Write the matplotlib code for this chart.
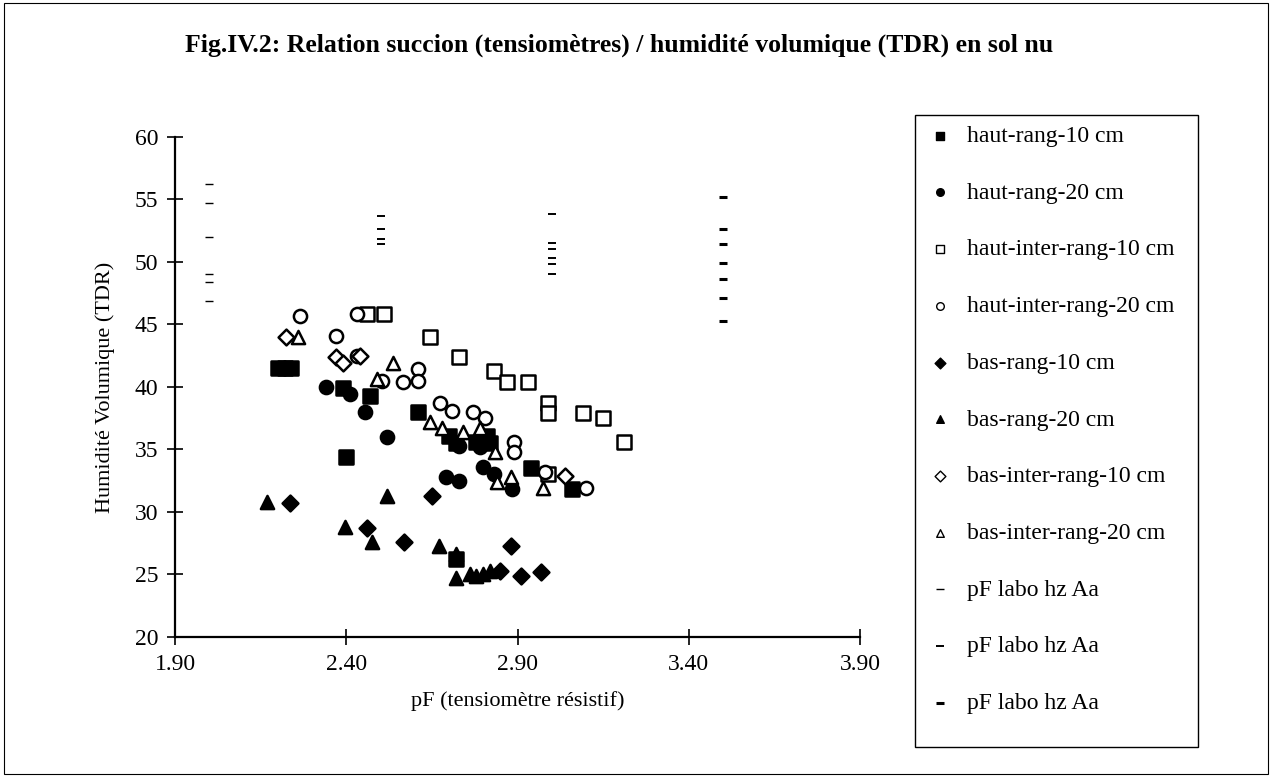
import matplotlib

matplotlib.use('Agg')
import matplotlib.pyplot as plt
from matplotlib.patches import Rectangle

plt.rcParams['font.family'] = ['Liberation Serif', 'DejaVu Serif']

TITLE = "Fig.IV.2: Relation succion (tensiomètres) / humidité volumique (TDR) en sol nu"

# pF (x) / humidité volumique (y) for each probe position
haut_rang_10_x = [2.20, 2.22, 2.24, 2.39, 2.40, 2.47, 2.61, 2.70, 2.72, 2.72, 2.78, 2.81, 2.82, 2.94, 3.06]
haut_rang_10_y = [41.5, 41.5, 41.5, 39.9, 34.4, 39.3, 38.0, 36.1, 35.5, 26.2, 35.6, 36.1, 35.5, 33.5, 31.8]

haut_rang_20_x = [2.34, 2.41, 2.455, 2.52, 2.69, 2.73, 2.73, 2.79, 2.80, 2.83, 2.885]
haut_rang_20_y = [40.0, 39.4, 38.0, 36.0, 32.8, 32.5, 35.3, 35.2, 33.6, 33.0, 31.8]

haut_inter_rang_10_x = [2.46, 2.51, 2.645, 2.73, 2.83, 2.87, 2.93, 2.99, 2.99, 3.09, 3.15, 3.21, 2.99]
haut_inter_rang_10_y = [45.8, 45.8, 44.0, 42.4, 41.3, 40.4, 40.4, 38.7, 37.9, 37.9, 37.5, 35.6, 33.0]

haut_inter_rang_20_x = [2.265, 2.37, 2.43, 2.43, 2.505, 2.565, 2.61, 2.61, 2.675, 2.71, 2.77, 2.805,
                        2.89, 2.89, 2.98, 3.10]
haut_inter_rang_20_y = [45.7, 44.1, 45.8, 42.5, 40.5, 40.4, 41.4, 40.5, 38.7, 38.1, 38.0, 37.5,
                        35.6, 34.8, 33.2, 31.9]

bas_rang_10_x = [2.235, 2.46, 2.57, 2.65, 2.88, 2.85, 2.91, 2.97]
bas_rang_10_y = [30.7, 28.7, 27.6, 31.3, 27.3, 25.3, 24.9, 25.2]

bas_rang_20_x = [2.17, 2.395, 2.475, 2.52, 2.67, 2.72, 2.72, 2.76, 2.78, 2.80, 2.82]
bas_rang_20_y = [30.8, 28.8, 27.6, 31.3, 27.3, 26.6, 24.7, 25.0, 24.9, 25.0, 25.3]

bas_inter_rang_10_x = [2.225, 2.37, 2.39, 2.44, 3.04]
bas_inter_rang_10_y = [44.0, 42.4, 41.9, 42.5, 32.9]

bas_inter_rang_20_x = [2.26, 2.535, 2.49, 2.645, 2.68, 2.74, 2.79, 2.835, 2.84, 2.88, 2.975]
bas_inter_rang_20_y = [44.0, 41.9, 40.6, 37.2, 36.7, 36.4, 36.7, 34.8, 32.4, 32.8, 31.9]

# laboratory pF curve points (horizon Aa)
pf_labo_a_x = [2.00, 2.00, 2.00, 2.00, 2.00, 2.00]
pf_labo_a_y = [56.2, 54.7, 52.0, 49.0, 48.4, 46.9]
pf_labo_b_x = [2.50, 2.50, 2.50, 2.50, 3.00, 3.00, 3.00, 3.00, 3.00, 3.00]
pf_labo_b_y = [53.7, 52.6, 51.8, 51.4, 53.8, 51.5, 51.0, 50.3, 49.8, 49.0]
pf_labo_c_x = [3.50, 3.50, 3.50, 3.50, 3.50, 3.50, 3.50]
pf_labo_c_y = [55.2, 52.6, 51.4, 49.9, 48.6, 47.1, 45.3]

x_ticks = [1.90, 2.40, 2.90, 3.40, 3.90]
y_ticks = [20, 25, 30, 35, 40, 45, 50, 55, 60]

series = [
    (haut_rang_10_x, haut_rang_10_y, 's', 'black', 'haut-rang-10 cm'),
    (haut_rang_20_x, haut_rang_20_y, 'o', 'black', 'haut-rang-20 cm'),
    (haut_inter_rang_10_x, haut_inter_rang_10_y, 's', 'white', 'haut-inter-rang-10 cm'),
    (haut_inter_rang_20_x, haut_inter_rang_20_y, 'o', 'white', 'haut-inter-rang-20 cm'),
    (bas_rang_10_x, bas_rang_10_y, 'D', 'black', 'bas-rang-10 cm'),
    (bas_rang_20_x, bas_rang_20_y, '^', 'black', 'bas-rang-20 cm'),
    (bas_inter_rang_10_x, bas_inter_rang_10_y, 'D', 'white', 'bas-inter-rang-10 cm'),
    (bas_inter_rang_20_x, bas_inter_rang_20_y, '^', 'white', 'bas-inter-rang-20 cm'),
]

fig = plt.figure(figsize=(12.72, 7.77), dpi=100)
fig.patches.append(Rectangle((0.003, 0.004), 0.994, 0.992, transform=fig.transFigure,
                             fill=False, edgecolor='black', linewidth=0.8))
ax = fig.add_axes([0.1376, 0.1802, 0.5385, 0.6435])

handles = []
for xs, ys, marker, face, label in series:
    size = 65 if marker == 'D' else 90
    ax.scatter(xs, ys, marker=marker, s=size, facecolors=face, edgecolors='black',
               linewidths=1.8, zorder=3)
    handles.append(ax.scatter([], [], marker=marker, s=30, facecolors=face,
                              edgecolors='black', linewidths=1.0, label=label))

for xs, ys, lw in [(pf_labo_a_x, pf_labo_a_y, 1.0), (pf_labo_b_x, pf_labo_b_y, 1.4),
                   (pf_labo_c_x, pf_labo_c_y, 2.2)]:
    ax.scatter(xs, ys, marker='_', s=30, color='black', linewidths=lw, zorder=3)
    handles.append(ax.scatter([], [], marker='_', s=30, color='black', linewidths=lw,
                              label='pF labo hz Aa'))

ax.set_xlim(1.90, 3.90)
ax.set_ylim(20, 60)
ax.set_xticks(x_ticks)
ax.set_xticklabels([f"{t:.2f}" for t in x_ticks])
ax.set_yticks(y_ticks)
ax.tick_params(direction='inout', length=12, width=1.2, labelsize=17, pad=6)
for side in ('top', 'right'):
    ax.spines[side].set_visible(False)
for side in ('left', 'bottom'):
    ax.spines[side].set_linewidth(1.6)

ax.set_xlabel('pF (tensiomètre résistif)', fontsize=16, labelpad=12)
ax.set_ylabel('Humidité Volumique (TDR)', fontsize=16, labelpad=14)

fig.text(0.487, 0.942, TITLE, ha='center', va='center', fontsize=18.5, fontweight='bold')

# legend entries without their own frame; the box is drawn separately
fig.legend(handles=handles, loc='upper left', bbox_to_anchor=(917 / 1272, 1 - 116 / 777),
           fontsize=17, frameon=False, labelspacing=1.49, handletextpad=0.58,
           borderpad=0.4, handlelength=1.15, borderaxespad=0)
fig.patches.append(Rectangle((915 / 1272, 1 - 747 / 777), 283 / 1272, 632 / 777,
                             transform=fig.transFigure, fill=False, edgecolor='black',
                             linewidth=1.0))

fig.savefig('out.png', dpi=100)
